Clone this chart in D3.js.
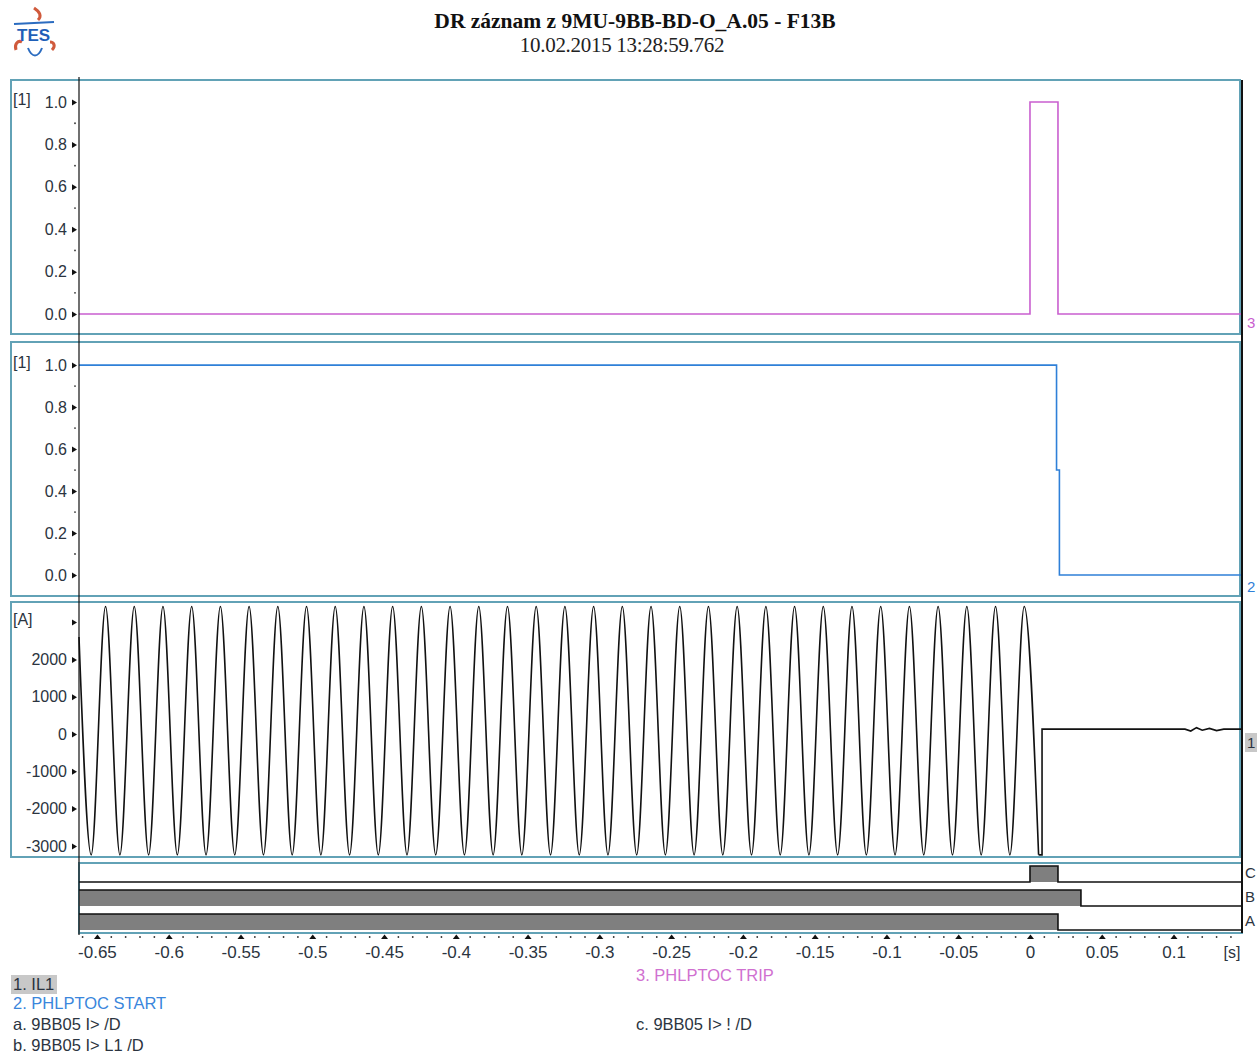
<!DOCTYPE html>
<html>
<head>
<meta charset="utf-8">
<script src="https://cdn.jsdelivr.net/npm/d3@7"></script>
<style>
body { margin: 0; background: #fff; }
text { font-family: "Liberation Sans", Arial, sans-serif; }
</style>
</head>
<body>
<svg id="chart" width="1257" height="1064"></svg>
<script>
// ---- data ----
var timeTicks = [-0.65, -0.6, -0.55, -0.5, -0.45, -0.4, -0.35, -0.3, -0.25, -0.2, -0.15, -0.1, -0.05, 0, 0.05, 0.1]
var timeLabels = ['-0.65', '-0.6', '-0.55', '-0.5', '-0.45', '-0.4', '-0.35', '-0.3', '-0.25', '-0.2', '-0.15', '-0.1', '-0.05', '0', '0.05', '0.1']
var binaryTicks = [0, 0.2, 0.4, 0.6, 0.8, 1.0]
var binaryLabels = ['0.0', '0.2', '0.4', '0.6', '0.8', '1.0']
var binaryMinor = [0.1, 0.3, 0.5, 0.7, 0.9]
var currentTicks = [-3000, -2000, -1000, 0, 1000, 2000, 3000]
var currentLabels = ['-3000', '-2000', '-1000', '0', '1000', '2000', '']

// 3. PHLPTOC TRIP
var tripTimes = [-0.6625, 0.0, 0.0195, 0.1477]
var tripValues = [0, 1, 0, 0]

// 2. PHLPTOC START
var startTimes = [-0.6625, 0.0185, 0.0205, 0.1477]
var startValues = [1, 0.5, 0, 0]

// 1. IL1 - peaks and troughs of the current
var il1Times = [-0.6625, -0.654, -0.644, -0.634, -0.624, -0.614, -0.604, -0.594, -0.584, -0.574, -0.564,
    -0.554, -0.544, -0.534, -0.524, -0.514, -0.504, -0.494, -0.484, -0.474, -0.464, -0.454, -0.444,
    -0.434, -0.424, -0.414, -0.404, -0.394, -0.384, -0.374, -0.364, -0.354, -0.344, -0.334, -0.324,
    -0.314, -0.304, -0.294, -0.284, -0.274, -0.264, -0.254, -0.244, -0.234, -0.224, -0.214, -0.204,
    -0.194, -0.184, -0.174, -0.164, -0.154, -0.144, -0.134, -0.124, -0.114, -0.104, -0.094, -0.084,
    -0.074, -0.064, -0.054, -0.044, -0.034, -0.024, -0.014, -0.004, 0.006]
var il1Values = [2600, -3240, 3420, -3240, 3420, -3240, 3420, -3240, 3420, -3240, 3420,
    -3240, 3420, -3240, 3420, -3240, 3420, -3240, 3420, -3240, 3420, -3240, 3420,
    -3240, 3420, -3240, 3420, -3240, 3420, -3240, 3420, -3240, 3420, -3240, 3420,
    -3240, 3420, -3240, 3420, -3240, 3420, -3240, 3420, -3240, 3420, -3240, 3420,
    -3240, 3420, -3240, 3420, -3240, 3420, -3240, 3420, -3240, 3420, -3240, 3420,
    -3240, 3420, -3240, 3420, -3240, 3420, -3240, 3420, -3240]
// after the breaker opened
var il1TailTimes = [0.006, 0.0084, 0.0084, 0.108, 0.112, 0.116, 0.12, 0.125, 0.13, 0.135, 0.1477]
var il1TailValues = [-3240, -3240, 130, 130, 80, 170, 100, 150, 90, 130, 130]

// binary channels a, b, c
var digNames = ['C', 'B', 'A']
var digATimes = [-0.6625, 0.0195, 0.1477]
var digAValues = [1, 0, 0]
var digBTimes = [-0.6625, 0.0355, 0.1477]
var digBValues = [1, 0, 0]
var digCTimes = [-0.6625, 0.0, 0.0195, 0.1477]
var digCValues = [0, 1, 0, 0]

var zip = (ts, vs) => ts.map((t, i) => ({ t: t, v: vs[i] }))

// ---- layout ----
var dim = { left: 79, right: 1242, frameL: 11, frameR: 1240 }
var frameColor = '#62a2b6'
var textColor = '#2b3440'

var svg = d3.select('#chart')

var x = d3.scaleLinear()
    .domain([-0.6625, 0.1477])
    .range([dim.left, dim.right])

var panels = [
    { top: 80, bottom: 334, domain: [-0.094, 1.104], unit: '[1]', ticks: binaryTicks, labels: binaryLabels, minor: binaryMinor },
    { top: 342, bottom: 596, domain: [-0.1, 1.11], unit: '[1]', ticks: binaryTicks, labels: binaryLabels, minor: binaryMinor },
    { top: 602, bottom: 857, domain: [-3298, 3539], unit: '[A]', ticks: currentTicks, labels: currentLabels, minor: [] },
]

panels.forEach(p => {
    p.y = d3.scaleLinear().domain(p.domain).range([p.bottom, p.top])

    svg.append('rect')
        .attr('x', dim.frameL).attr('y', p.top)
        .attr('width', dim.frameR - dim.frameL).attr('height', p.bottom - p.top)
        .attr('fill', 'none').attr('stroke', frameColor).attr('stroke-width', 2)

    var ya = d3.axisLeft(p.y)
        .tickValues(p.ticks)
        .tickFormat((d, i) => p.labels[i])
        .tickSize(0)
        .tickPadding(12)

    var g = svg.append('g')
        .attr('transform', `translate(${dim.left},0)`)
        .call(ya)
    g.select('.domain').remove()
    g.selectAll('.tick text')
        .attr('fill', textColor)
        .style('font-size', '16px')
    g.selectAll('.tick').append('path')
        .attr('d', 'M-7,-3L-2,0L-7,3Z')
        .attr('fill', '#111')

    g.selectAll('circle.minor')
        .data(p.minor)
        .join('circle')
        .attr('class', 'minor')
        .attr('cx', -4)
        .attr('cy', d => p.y(d))
        .attr('r', 0.9)
        .attr('fill', '#333')

    svg.append('text')
        .attr('x', 13).attr('y', p.y(p.ticks[p.ticks.length - 1]) - 2)
        .attr('dy', '0.3em')
        .attr('fill', textColor)
        .style('font-size', '16px')
        .text(p.unit)
})

// ---- signals ----
var p1 = panels[0], p2 = panels[1], p3 = panels[2]

svg.append('path')
    .datum(zip(tripTimes, tripValues))
    .attr('d', d3.line().x(d => x(d.t)).y(d => p1.y(d.v)).curve(d3.curveStepAfter))
    .attr('fill', 'none').attr('stroke', '#c95fcf').attr('stroke-width', 1.6)

svg.append('path')
    .datum(zip(startTimes, startValues))
    .attr('d', d3.line().x(d => x(d.t)).y(d => p2.y(d.v)).curve(d3.curveStepAfter))
    .attr('fill', 'none').attr('stroke', '#2f80d8').attr('stroke-width', 1.6)

svg.append('path')
    .datum(zip(il1Times, il1Values))
    .attr('d', d3.line().x(d => x(d.t)).y(d => p3.y(d.v)).curve(d3.curveMonotoneX))
    .attr('fill', 'none').attr('stroke', '#111').attr('stroke-width', 1.6)

svg.append('path')
    .datum(zip(il1TailTimes, il1TailValues))
    .attr('d', d3.line().x(d => x(d.t)).y(d => p3.y(d.v)))
    .attr('fill', 'none').attr('stroke', '#111').attr('stroke-width', 1.6)

// ---- binary channels ----
var digTop = 863, digBottom = 933
svg.append('rect')
    .attr('x', dim.left).attr('y', digTop)
    .attr('width', dim.right - dim.left).attr('height', digBottom - digTop)
    .attr('fill', 'none').attr('stroke', frameColor).attr('stroke-width', 2)

var digY = d3.scaleBand().domain(digNames).range([858, 930])
var barH = 16
var digData = { A: zip(digATimes, digAValues), B: zip(digBTimes, digBValues), C: zip(digCTimes, digCValues) }

digNames.forEach(name => {
    var base = digY(name) + digY.bandwidth()
    var data = digData[name]
    svg.append('path')
        .datum(data)
        .attr('d', d3.area().x(d => x(d.t)).y0(base).y1(d => base - d.v * barH).curve(d3.curveStepAfter))
        .attr('fill', '#7f7f7f')
    svg.append('path')
        .datum(data)
        .attr('d', d3.line().x(d => x(d.t)).y(d => base - d.v * barH).curve(d3.curveStepAfter))
        .attr('fill', 'none').attr('stroke', '#111').attr('stroke-width', 1.6)
    svg.append('text')
        .attr('x', 1245).attr('y', base - 9)
        .attr('dy', '0.35em')
        .attr('fill', textColor)
        .style('font-size', '15px')
        .text(name)
})

// ---- vertical lines ----
svg.append('line').attr('x1', dim.left).attr('x2', dim.left).attr('y1', 77).attr('y2', 935)
    .attr('stroke', '#111').attr('stroke-width', 1.2)
svg.append('line').attr('x1', dim.right).attr('x2', dim.right).attr('y1', 80).attr('y2', 933)
    .attr('stroke', '#111').attr('stroke-width', 2)

// ---- time axis ----
var xa = d3.axisBottom(x)
    .tickValues(timeTicks)
    .tickFormat((d, i) => timeLabels[i])
    .tickSize(0)
    .tickPadding(13)

var xg = svg.append('g')
    .attr('transform', 'translate(0,933)')
    .call(xa)
xg.select('.domain').remove()
xg.selectAll('.tick text')
    .attr('fill', textColor)
    .style('font-size', '17px')
xg.selectAll('.tick').append('path')
    .attr('d', 'M-3.5,6L0,1.5L3.5,6Z')
    .attr('fill', '#111')

var minorTimes = d3.range(-66, 15).map(i => i / 100).filter(t => Math.abs(Math.round(t * 20) - t * 20) > 1e-6)
xg.selectAll('circle.minor')
    .data(minorTimes)
    .join('circle')
    .attr('class', 'minor')
    .attr('cx', d => x(d))
    .attr('cy', 4)
    .attr('r', 0.9)
    .attr('fill', '#333')

svg.append('text')
    .attr('x', 1232).attr('y', 958)
    .attr('text-anchor', 'middle')
    .attr('fill', textColor)
    .style('font-size', '16px')
    .text('[s]')

// ---- right channel numbers ----
svg.append('text').attr('x', 1247).attr('y', p1.y(0) + 14)
    .attr('fill', '#c95fcf').style('font-size', '15px').text('3')
svg.append('text').attr('x', 1247).attr('y', p2.y(0) + 17)
    .attr('fill', '#2f80d8').style('font-size', '15px').text('2')
svg.append('rect').attr('x', 1245).attr('y', 733).attr('width', 12).attr('height', 19).attr('fill', '#c8c8c8')
svg.append('text').attr('x', 1247).attr('y', 748)
    .attr('fill', textColor).style('font-size', '15px').text('1')

// ---- titles ----
svg.append('text')
    .attr('x', 635).attr('y', 28)
    .attr('text-anchor', 'middle')
    .style('font-family', '"Liberation Serif", "Times New Roman", serif')
    .style('font-weight', 'bold')
    .style('font-size', '21.5px')
    .attr('fill', '#111')
    .text('DR záznam z 9MU-9BB-BD-O_A.05 - F13B')

svg.append('text')
    .attr('x', 622).attr('y', 52)
    .attr('text-anchor', 'middle')
    .style('font-family', '"Liberation Serif", "Times New Roman", serif')
    .style('font-size', '21px')
    .style('letter-spacing', '-0.3px')
    .attr('fill', '#222')
    .text('10.02.2015 13:28:59.762')

// ---- logo ----
var logo = svg.append('g').attr('transform', 'translate(12,6)')
logo.append('path').attr('d', 'M22,2 C28,6 30,10 26,14').attr('fill', 'none').attr('stroke', '#d05a3c').attr('stroke-width', 3)
logo.append('path').attr('d', 'M4,44 C2,38 6,34 10,36').attr('fill', 'none').attr('stroke', '#d05a3c').attr('stroke-width', 3)
logo.append('path').attr('d', 'M40,44 C44,40 42,36 38,36').attr('fill', 'none').attr('stroke', '#d05a3c').attr('stroke-width', 3)
logo.append('path').attr('d', 'M2,18 L42,16').attr('fill', 'none').attr('stroke', '#2b6cc0').attr('stroke-width', 2)
logo.append('path').attr('d', 'M16,42 C20,52 26,52 30,42').attr('fill', 'none').attr('stroke', '#2b6cc0').attr('stroke-width', 2)
logo.append('text').attr('x', 5).attr('y', 35)
    .style('font-weight', 'bold').style('font-size', '17px').attr('fill', '#1f5fb8').text('TES')

// ---- legend ----
svg.append('rect').attr('x', 11).attr('y', 975).attr('width', 46).attr('height', 19).attr('fill', '#c8c8c8')
var legend = [
    { x: 13, y: 990, text: '1. IL1', color: textColor },
    { x: 13, y: 1009, text: '2. PHLPTOC START', color: '#3a86dc' },
    { x: 13, y: 1030, text: 'a. 9BB05 I> /D', color: textColor },
    { x: 13, y: 1051, text: 'b. 9BB05 I> L1 /D', color: textColor },
    { x: 636, y: 981, text: '3. PHLPTOC TRIP', color: '#d070d0' },
    { x: 636, y: 1030, text: 'c. 9BB05 I> ! /D', color: textColor },
]
svg.selectAll('text.legend')
    .data(legend)
    .join('text')
    .attr('class', 'legend')
    .attr('x', d => d.x)
    .attr('y', d => d.y)
    .attr('fill', d => d.color)
    .style('font-size', '16.5px')
    .text(d => d.text)
</script>
</body>
</html>
